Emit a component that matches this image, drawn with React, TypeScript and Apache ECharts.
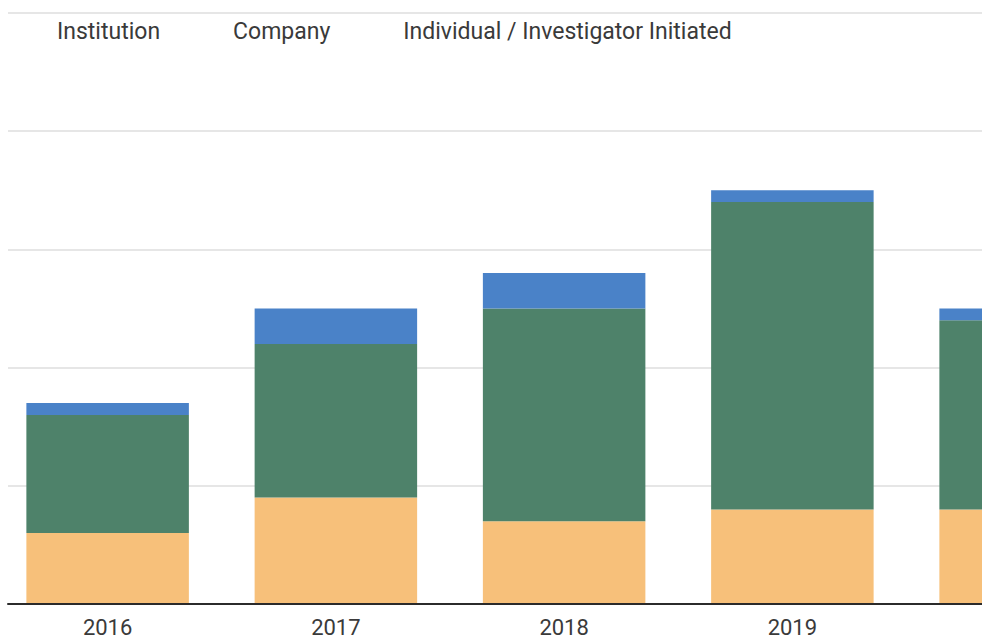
import React, { useEffect, useRef } from "react";
import * as echarts from "echarts";

const years = ["2016", "2017", "2018", "2019", "2020"];
const institution = [60, 90, 70, 80, 80];
const company = [100, 130, 180, 260, 160];
const individual = [10, 30, 30, 10, 10];
const seriesNames = ["Institution", "Company", "Individual / Investigator Initiated"];
const yMax = 500;
const yInterval = 100;
const visibleYears = 4;

const FONT = "Roboto";
const TEXT = "#3a3a3a";

export default function App() {
  const ref = useRef<HTMLDivElement>(null);
  useEffect(() => {
    document.body.style.margin = "0";
    const chart = echarts.init(ref.current!, undefined, { renderer: "svg" });
    chart.setOption({
      animation: false,
      backgroundColor: "#ffffff",
      textStyle: { fontFamily: FONT },
      legend: {
        data: seriesNames,
        left: 72,
        top: 20,
        icon: "none",
        itemWidth: 0,
        itemHeight: 14,
        itemGap: 68,
        padding: 0,
        selectedMode: false,
        textStyle: { fontFamily: FONT, fontSize: 23, color: TEXT },
      },
      grid: [
        { left: 13.5, top: 13, width: 1141.25, height: 591, containLabel: false },
        { left: 28, top: 13, right: 0, height: 591, containLabel: false },
      ],
      xAxis: [
        {
          type: "category",
          gridIndex: 0,
          data: years,
          axisLine: { show: false },
          axisTick: { show: false },
          axisLabel: {
            margin: 13,
            fontFamily: FONT,
            fontSize: 22,
            lineHeight: 20,
            color: TEXT,
            formatter: (v: string, i: number) => (i < visibleYears ? v : ""),
          },
        },
        {
          type: "value",
          gridIndex: 1,
          z: 5,
          axisLine: { show: true, lineStyle: { color: "#2b2b2b", width: 2 } },
          axisTick: { show: false },
          axisLabel: { show: false },
          splitLine: { show: false },
        },
      ],
      yAxis: [
        { type: "value", gridIndex: 0, min: 0, max: yMax, interval: yInterval, show: false },
        {
          type: "value",
          gridIndex: 1,
          min: 0,
          max: yMax,
          interval: yInterval,
          axisLine: { show: false },
          axisTick: { show: false },
          axisLabel: { show: false },
          splitLine: { show: true, lineStyle: { color: "#e6e6e6", width: 2 } },
        },
      ],
      series: [
        {
          name: seriesNames[0],
          type: "bar",
          stack: "total",
          xAxisIndex: 0,
          yAxisIndex: 0,
          barWidth: 162.5,
          data: institution,
          itemStyle: { color: "#F7C07A" },
        },
        {
          name: seriesNames[1],
          type: "bar",
          stack: "total",
          xAxisIndex: 0,
          yAxisIndex: 0,
          barWidth: 162.5,
          data: company,
          itemStyle: { color: "#4E826A" },
        },
        {
          name: seriesNames[2],
          type: "bar",
          stack: "total",
          xAxisIndex: 0,
          yAxisIndex: 0,
          barWidth: 162.5,
          data: individual,
          itemStyle: { color: "#4A82C8" },
        },
      ],
    });
    return () => chart.dispose();
  }, []);
  return (
    <div style={{ position: "fixed", left: 0, top: 0, width: 982, height: 641, overflow: "hidden", background: "#fff" }}>
      <div ref={ref} style={{ position: "absolute", left: -20, top: 0, width: 1200, height: 641 }} />
    </div>
  );
}
